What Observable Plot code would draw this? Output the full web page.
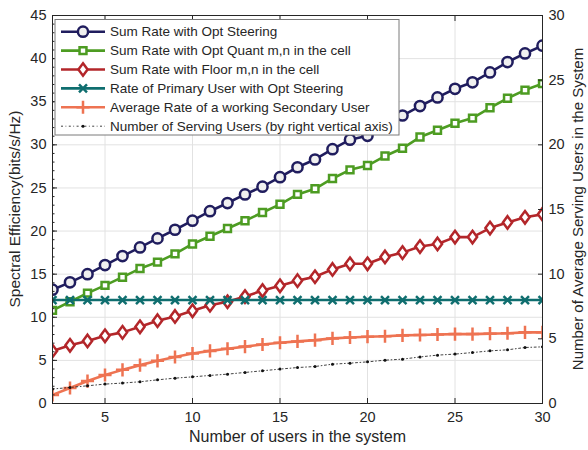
<!DOCTYPE html>
<html><head><meta charset="utf-8">
<script src="https://cdn.jsdelivr.net/npm/d3@7"></script>
<script src="https://cdn.jsdelivr.net/npm/@observablehq/plot@0.6"></script>
<style>
body{margin:0;background:#fff;}
#chart{width:588px;height:450px;}
</style></head><body><div id="chart"></div>
<script>
const users = [2,3,4,5,6,7,8,9,10,11,12,13,14,15,16,17,18,19,20,21,22,23,24,25,26,27,28,29,30];
const sumOpt = [13.2,14.05,15.0,16.05,17.1,18.1,19.15,20.15,21.2,22.3,23.25,24.25,25.15,26.25,27.4,28.3,29.5,30.6,31.05,32.3,33.4,34.5,35.5,36.5,37.25,38.4,39.6,40.6,41.5];
const sumQuant = [10.8,11.8,12.8,13.7,14.65,15.65,16.4,17.35,18.5,19.4,20.3,21.2,22.15,23.1,24.25,24.9,26.1,27.1,27.6,28.7,29.6,30.9,31.7,32.5,33.1,34.3,35.4,36.35,37.1];
const sumFloor = [6.1,6.75,7.25,7.85,8.25,8.9,9.6,10.1,10.75,11.4,11.8,12.4,13.1,13.65,14.25,14.7,15.55,16.2,16.2,17.0,17.5,18.2,18.5,19.3,19.3,20.35,21.0,21.6,21.95];
const primary = [12,12,12,12,12,12,12,12,12,12,12,12,12,12,12,12,12,12,12,12,12,12,12,12,12,12,12,12,12];
const avgSec = [1.0,1.8,2.6,3.3,3.9,4.45,4.95,5.4,5.8,6.1,6.35,6.6,6.85,7.05,7.2,7.35,7.55,7.65,7.75,7.8,7.9,7.95,8.0,8.05,8.05,8.1,8.15,8.25,8.25];
const serving = [1.12,1.24,1.37,1.5,1.58,1.68,1.83,1.96,2.06,2.17,2.27,2.4,2.53,2.66,2.78,2.86,3.04,3.12,3.22,3.35,3.43,3.6,3.74,3.82,3.94,4.07,4.15,4.33,4.38];

const seriesNames = [
  "Sum Rate with Opt Steering",
  "Sum Rate with Opt Quant m,n in the cell",
  "Sum Rate with Floor m,n in the cell",
  "Rate of Primary User with Opt Steering",
  "Average Rate of a working Secondary User",
  "Number of Serving Users (by right vertical axis)"
];
const xTicks = [5,10,15,20,25,30];
const yTicks = [0,5,10,15,20,25,30,35,40,45];
const rightTicks = [0,5,10,15,20,25,30];
const xLabel = "Number of users in the system";
const yLabel = "Spectral Efficiency(bits/s/Hz)";
const y2Label = "Number of Average Serving Users in the System";

const LEFT_MAX = 45, RIGHT_MAX = 30;
const k2 = LEFT_MAX / RIGHT_MAX;
const FONT = "'Liberation Sans', Arial, Helvetica, sans-serif";
const INK = "#262626";

const diamond = {draw(ctx, size){const k = Math.sqrt(size/Math.PI); ctx.moveTo(0,-1.36*k); ctx.lineTo(k,0); ctx.lineTo(0,1.36*k); ctx.lineTo(-k,0); ctx.closePath();}};

const styles = [
  {values: sumOpt, color:"#201d5e", symbol:"circle", r:5.1, fill:"#f0f0f0", sw:2.5},
  {values: sumQuant, color:"#4d9c22", symbol:"square", r:3.9, fill:"#ffffff", sw:2.5},
  {values: sumFloor, color:"#b3262a", symbol:diamond, r:4.6, fill:"#ffffff", sw:2.5},
  {values: primary, color:"#0f6e6f", symbol:"times", r:3.7, fill:"none", sw:2.5},
  {values: avgSec, color:"#ee7352", symbol:"plus", r:4.3, fill:"none", sw:2.5}
];

const marks = [
  Plot.gridX({ticks: xTicks, stroke:"#e2e2e2", strokeOpacity:1}),
  Plot.gridY({ticks: yTicks, stroke:"#e2e2e2", strokeOpacity:1})
];
styles.forEach(s => {
  const data = users.map((u,i) => ({x:u, y:s.values[i]}));
  marks.push(Plot.line(data, {x:"x", y:"y", stroke:s.color, strokeWidth:2.6, clip:true}));
  marks.push(Plot.dot(data, {x:"x", y:"y", symbol:s.symbol, r:s.r, stroke:s.color, fill:s.fill, strokeWidth:s.sw, clip:true}));
});
const servData = users.map((u,i) => ({x:u, y:serving[i]*k2}));
marks.push(Plot.line(servData, {x:"x", y:"y", stroke:"#111", strokeWidth:0.8, strokeDasharray:"2,2.5,0.8,2.5", clip:true}));
marks.push(Plot.dot(servData, {x:"x", y:"y", r:1.5, fill:"#111", stroke:null, clip:true}));

const minorTicks = d3.range(0, 46, 1);
marks.push(
  Plot.frame({stroke:INK, strokeWidth:1}),
  Plot.axisX({ticks:xTicks, tickSize:-5, tickPadding:13, label:null, fontSize:14.5, color:INK}),
  Plot.axisX({anchor:"top", ticks:xTicks, tickSize:-5, tickFormat:() => "", label:null}),
  Plot.axisY({ticks:yTicks, tickSize:-5, tickPadding:11, label:null, fontSize:14.5, color:INK}),
  Plot.axisY({ticks:minorTicks, tickSize:-2.5, tickFormat:() => "", label:null}),
  Plot.axisY({anchor:"right", ticks:rightTicks.map(v=>v*k2), tickFormat:d=>String(Math.round(d/k2)), tickSize:-5, tickPadding:11, label:null, fontSize:14.5, color:INK}),
  Plot.text([xLabel], {frameAnchor:"bottom", dy:38, fontSize:16, fill:INK})
);

const svg = Plot.plot({
  width:588, height:450,
  marginLeft:52, marginRight:46, marginTop:15, marginBottom:47,
  style:{fontFamily:FONT, fontSize:"14px", color:INK, background:"white"},
  x:{domain:[2,30]},
  y:{domain:[0,LEFT_MAX]},
  marks
});
document.getElementById("chart").appendChild(svg);

const root = d3.select(svg);
// rotated axis titles
const midY = (15 + 403) / 2;
root.append("text").attr("transform", `translate(15,${midY}) rotate(-90)`).attr("text-anchor","middle").attr("dy","0.35em")
  .attr("font-family",FONT).attr("font-size",15.5).attr("fill",INK).text(yLabel);
root.append("text").attr("transform", `translate(578,${midY}) rotate(-90)`).attr("text-anchor","middle").attr("dy","0.35em")
  .attr("font-family",FONT).attr("font-size",15).attr("fill",INK).text(y2Label);

// legend
const lg = root.append("g").attr("font-family", FONT).attr("font-size", 13.5).attr("text-anchor","start");
const lx = 55, ly = 19.5, lw = 344, lh = 115.5, rowH = 18.9, row0 = 31.7;
lg.append("rect").attr("x",lx).attr("y",ly).attr("width",lw).attr("height",lh).attr("fill","white").attr("stroke","#7a7a7a").attr("stroke-width",1);
seriesNames.forEach((name,i) => {
  const yy = row0 + i*rowH;
  const g = lg.append("g");
  if (i < 5) {
    const s = styles[i];
    g.append("line").attr("x1",61).attr("x2",105).attr("y1",yy).attr("y2",yy).attr("stroke",s.color).attr("stroke-width",2.6);
    const symType = typeof s.symbol === "string" ? {circle:d3.symbolCircle, square:d3.symbolSquare, times:d3.symbolTimes, plus:d3.symbolPlus}[s.symbol] : s.symbol;
    g.append("path").attr("d", d3.symbol(symType, Math.PI*s.r*s.r)()).attr("transform",`translate(83,${yy})`)
      .attr("fill", s.fill).attr("stroke", s.color).attr("stroke-width", s.sw);
  } else {
    g.append("line").attr("x1",61).attr("x2",105).attr("y1",yy).attr("y2",yy).attr("stroke","#111").attr("stroke-width",0.8).attr("stroke-dasharray","2,2.5,0.8,2.5");
    g.append("circle").attr("cx",83).attr("cy",yy).attr("r",1.5).attr("fill","#111");
  }
  g.append("text").attr("x",110).attr("y",yy).attr("dy","0.35em").attr("fill",INK).text(name);
});
</script></body></html>
